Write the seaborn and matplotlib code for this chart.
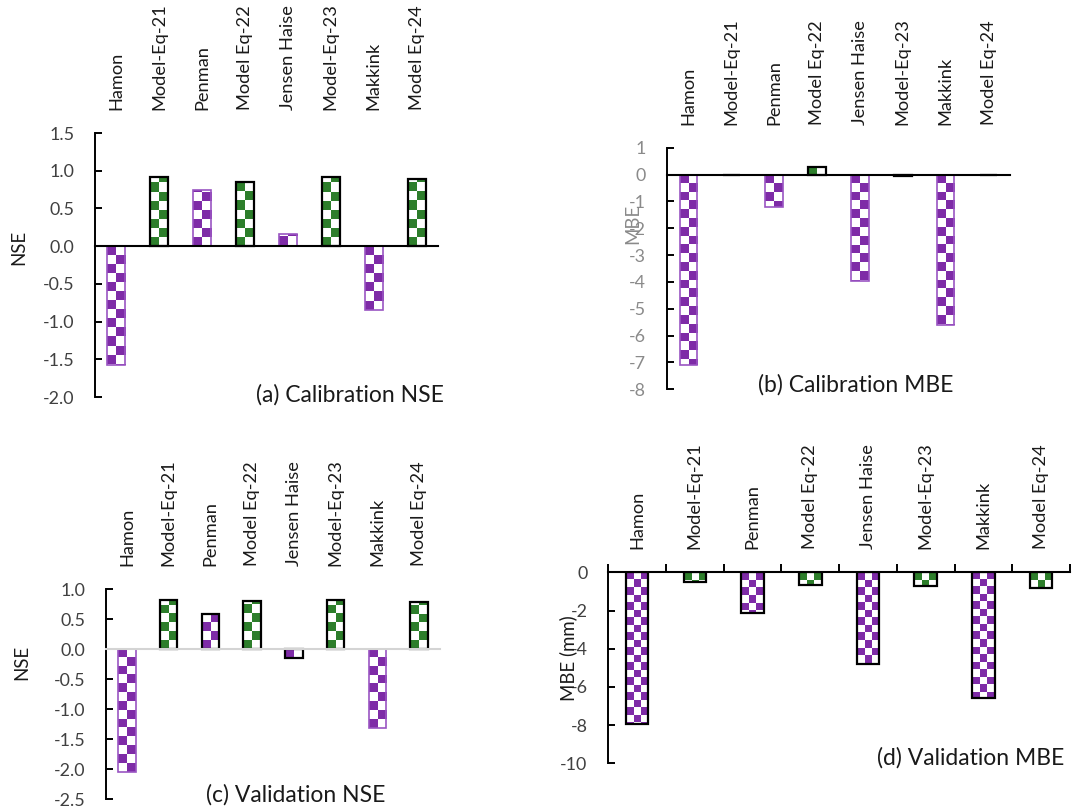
import numpy as np
import pandas as pd
import matplotlib
matplotlib.use("Agg")
import matplotlib.pyplot as plt
import seaborn as sns
from matplotlib.colors import to_rgb
from matplotlib.ticker import MultipleLocator, FuncFormatter, FixedLocator
from matplotlib.font_manager import FontProperties
from matplotlib.textpath import TextPath

# ---- data -------------------------------------------------------------
methods = ["Hamon", "Model-Eq-21", "Penman", "Model Eq-22",
           "Jensen Haise", "Model-Eq-23", "Makkink", "Model Eq-24"]
is_model = [False, True, False, True, False, True, False, True]

cal_nse = [-1.57, 0.92, 0.75, 0.85, 0.16, 0.92, -0.84, 0.89]
cal_mbe = [-7.10, 0.0, -1.22, 0.29, -3.97, -0.06, -5.62, 0.0]
val_nse = [-2.05, 0.82, 0.59, 0.80, -0.15, 0.82, -1.32, 0.79]
val_mbe = [-7.95, -0.52, -2.11, -0.66, -4.78, -0.72, -6.60, -0.80]

panel_titles = ["(a) Calibration NSE", "(b) Calibration MBE",
                "(c) Validation NSE", "(d) Validation MBE"]
y_labels = ["NSE", "MBE", "NSE", "MBE (mm)"]

# ---- style ------------------------------------------------------------
PURPLE = "#7E2BA7"
GREEN = "#2D7E2B"
PURPLE_EDGE = "#9A55C2"
W, H = 1076, 810
FAMILY = "Lato"

sns.set_theme(style="white")
plt.rcParams["font.family"] = [FAMILY, "DejaVu Sans"]
plt.rcParams["axes.unicode_minus"] = False


def size_for(text, target_px):
    """Font size (pt) whose inked width of `text` is target_px at 100 dpi."""
    tp = TextPath((0, 0), text, prop=FontProperties(family=FAMILY, size=10))
    w_px = tp.get_extents().width * 100 / 72
    return 10 * target_px / w_px


CAT_SIZE = size_for("Model-Eq-21", 104)
TICK_SIZE = size_for("-2.0", 30)
TITLE_SIZE = size_for("(a) Calibration NSE", 186)
LABEL_SIZE = size_for("MBE (mm)", 83)

fig = plt.figure(figsize=(W / 100, H / 100), dpi=100)


def px_axes(left, top, right, bottom):
    return fig.add_axes([left / W, 1 - bottom / H, (right - left) / W, (bottom - top) / H])


def checker_fill(ax, patches, fills, ylim, cell_px=8.5):
    bb = ax.get_position()
    ax_w = bb.width * W
    ax_h = bb.height * H
    x_per_px = 8.0 / ax_w
    y_per_px = (ylim[1] - ylim[0]) / ax_h
    for p, col in zip(patches, fills):
        x0, w, h = p.get_x(), p.get_width(), p.get_height()
        ncols = max(1, int(round(w / x_per_px / cell_px)))
        cw_px = w / ncols / x_per_px
        ch = cw_px * y_per_px
        nrows = int(np.ceil(abs(h) / ch)) + 1
        img = np.ones((nrows, ncols, 3))
        rgb = to_rgb(col)
        for r in range(nrows):
            for c in range(ncols):
                if (r + c) % 2 == 0:
                    img[r, c] = rgb
        if h >= 0:
            ext, org = (x0, x0 + w, 0, nrows * ch), "lower"
        else:
            ext, org = (x0, x0 + w, -nrows * ch, 0), "upper"
        im = ax.imshow(img, extent=ext, origin=org, aspect="auto",
                       interpolation="nearest", zorder=1.5)
        im.set_clip_path(p)
        p.set_facecolor("none")
        p.set_zorder(2)


def draw_panel(ax, values, width, edges, edge_w, ylim, ystep, decimals,
               zero_color, tick_color, boundary_ticks=False):
    fills = [GREEN if m else PURPLE for m in is_model]
    df = pd.DataFrame({"method": methods, "value": values})
    sns.barplot(data=df, x="method", y="value", hue="method",
                palette=dict(zip(methods, fills)), width=width,
                saturation=1, legend=False, ax=ax, order=methods,
                hue_order=methods)
    patches = sorted(ax.patches, key=lambda p: p.get_x())
    for p, ec, lw in zip(patches, edges, edge_w):
        p.set_edgecolor(ec)
        p.set_linewidth(lw)
    ax.set_xlim(-0.5, len(methods) - 0.5)
    ax.set_ylim(*ylim)
    checker_fill(ax, patches, fills, ylim)
    ax.set_xlim(-0.5, len(methods) - 0.5)
    ax.set_ylim(*ylim)
    ax.set_xlabel("")
    ax.set_ylabel("")

    for s in ("top", "right"):
        ax.spines[s].set_visible(False)
    ax.spines["bottom"].set_position(("data", 0))
    ax.spines["bottom"].set_color(zero_color)
    ax.spines["bottom"].set_linewidth(1.5)
    ax.spines["left"].set_color("black")
    ax.spines["left"].set_linewidth(1.4)
    ax.spines["bottom"].set_zorder(3)

    ax.yaxis.set_major_locator(MultipleLocator(ystep))
    fmt = "{:.%df}" % decimals
    ax.yaxis.set_major_formatter(FuncFormatter(
        lambda v, _: fmt.format(0 if abs(v) < 1e-9 else v)))
    ax.tick_params(axis="y", direction="in", length=5, width=1.4,
                   color="black", pad=15, labelsize=TICK_SIZE,
                   labelcolor=tick_color, left=True)
    ax.tick_params(axis="x", which="major", bottom=False, top=False,
                   labelbottom=False, labeltop=True, labelrotation=90,
                   pad=10.5, labelsize=CAT_SIZE, labelcolor="#1a1a1a")
    if boundary_ticks:
        ax.xaxis.set_minor_locator(FixedLocator(np.arange(-0.5, len(methods), 1.0)))
        ax.tick_params(axis="x", which="minor", bottom=True, direction="in",
                       length=6, width=1.4, color="black")
    ax.grid(False)


black8 = ["black"] * 8

# (a) calibration NSE
ax_a = px_axes(95, 133, 438, 397)
edges_a = [PURPLE_EDGE if not m else "black" for m in is_model]
draw_panel(ax_a, cal_nse, 0.42, edges_a, [1.2 if not m else 1.6 for m in is_model],
           (-2.0, 1.5), 0.5, 1, "black", "#404040")

# (b) calibration MBE
ax_b = px_axes(667, 147.7, 1010, 389.3)
draw_panel(ax_b, cal_mbe, 0.41, edges_a, [1.2 if not m else 1.6 for m in is_model],
           (-8, 1), 1, 0, "black", "#8a8a8a")

# (c) validation NSE
ax_c = px_axes(106, 589, 440, 799.3)
edges_c = [PURPLE_EDGE, "black", "black", "black", "black", "black", PURPLE_EDGE, "black"]
width_c = [1.2 if e == PURPLE_EDGE else 1.6 for e in edges_c]
draw_panel(ax_c, val_nse, 0.42, edges_c, width_c,
           (-2.5, 1.0), 0.5, 1, "#d4d4d4", "#404040")

# (d) validation MBE
ax_d = px_axes(608.3, 572.3, 1070, 763.3)
draw_panel(ax_d, val_mbe, 0.39, black8, [1.6] * 8,
           (-10, 0), 2, 0, "black", "#404040", boundary_ticks=True)

# axis titles
fig.text(19 / W, 1 - 247 / H, y_labels[0], rotation=90, ha="center", va="center",
         fontsize=LABEL_SIZE, color="#1a1a1a")
fig.text(633 / W, 1 - 224 / H, y_labels[1], rotation=90, ha="center", va="center",
         fontsize=LABEL_SIZE, color="#8a8a8a")
fig.text(22 / W, 1 - 662 / H, y_labels[2], rotation=90, ha="center", va="center",
         fontsize=LABEL_SIZE, color="#1a1a1a")
fig.text(568 / W, 1 - 658 / H, y_labels[3], rotation=90, ha="center", va="center",
         fontsize=LABEL_SIZE, color="#1a1a1a")

# panel captions
fig.text(350 / W, 1 - 395 / H, panel_titles[0], ha="center", va="center",
         fontsize=TITLE_SIZE, color="#1a1a1a")
fig.text(856 / W, 1 - 385 / H, panel_titles[1], ha="center", va="center",
         fontsize=TITLE_SIZE, color="#1a1a1a")
fig.text(296 / W, 1 - 795 / H, panel_titles[2], ha="center", va="center",
         fontsize=TITLE_SIZE, color="#1a1a1a")
fig.text(877 / W, 1 - 758 / H, panel_titles[3], ha="left", va="center",
         fontsize=TITLE_SIZE, color="#1a1a1a")

fig.savefig("out.png", dpi=100)
